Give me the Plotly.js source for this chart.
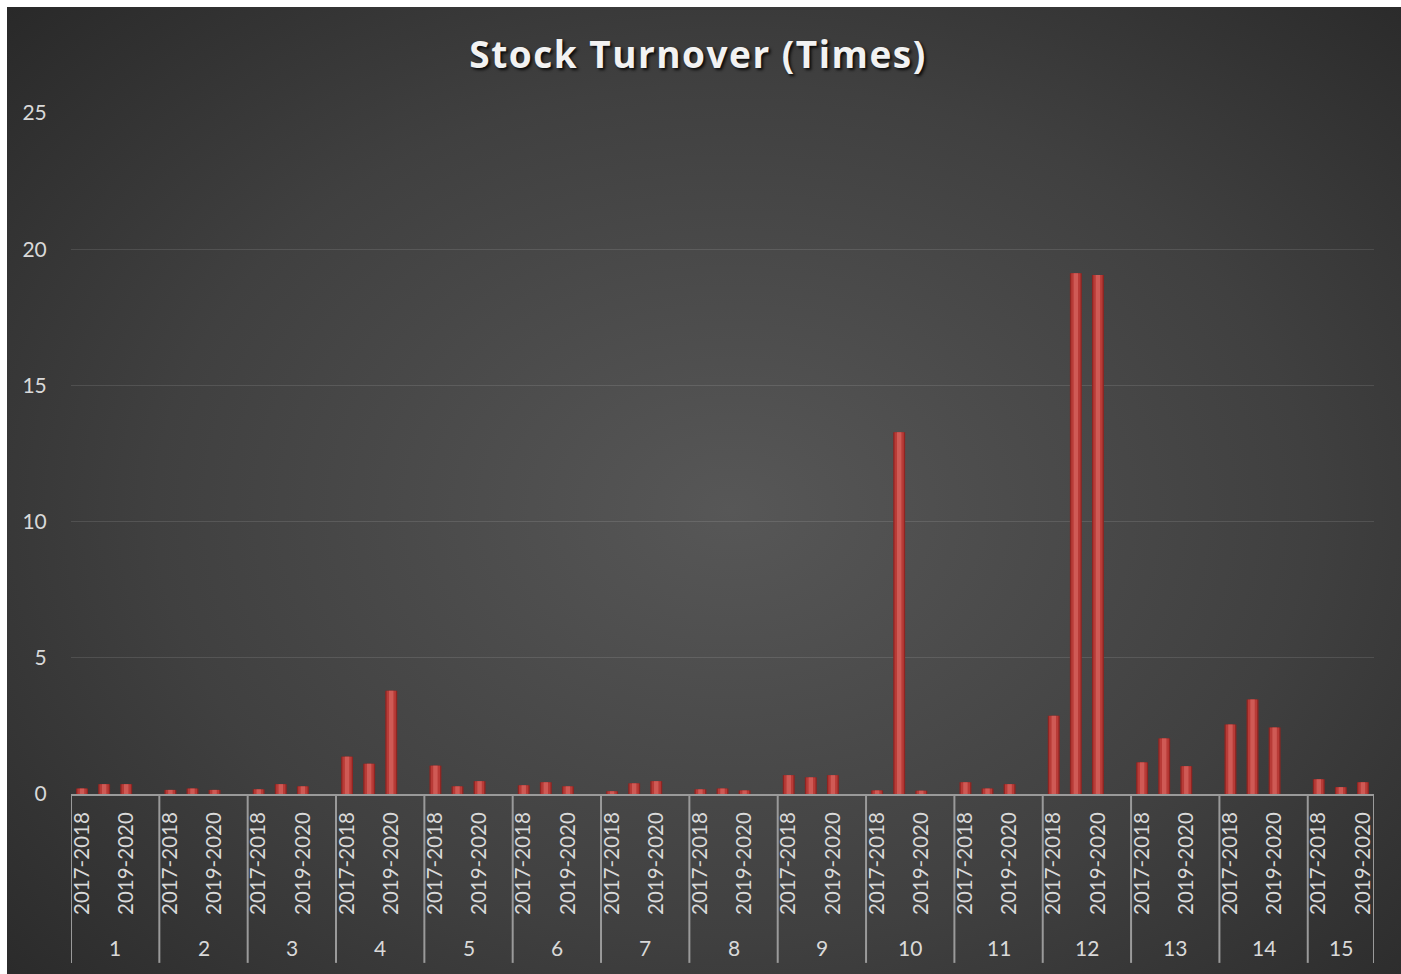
<!DOCTYPE html>
<html><head><meta charset="utf-8">
<script src="https://cdn.plot.ly/plotly-3.0.1.min.js"></script>
<style>
html,body{margin:0;padding:0;background:#ffffff;width:1401px;height:974px;overflow:hidden;}
#chart{position:absolute;left:7px;top:7px;width:1394px;height:967px;
  background:radial-gradient(ellipse 75% 80% at 52% 52%, #575757 0%, #404040 55%, #262626 100%);}
</style></head>
<body><div id="chart"></div>
<script>
const groups = ['1','2','3','4','5','6','7','8','9','10','11','12','13','14','15'];
const periods = ['2017-2018','2018-2019','2019-2020'];
const turnover2017_2018 = [0.20, 0.15, 0.17, 1.37, 1.04, 0.32, 0.10, 0.17, 0.69, 0.13, 0.43, 2.87, 1.16, 2.55, 0.54];
const turnover2018_2019 = [0.36, 0.20, 0.36, 1.11, 0.28, 0.43, 0.39, 0.20, 0.61, 13.28, 0.20, 19.12, 2.04, 3.47, 0.25];
const turnover2019_2020 = [0.36, 0.15, 0.28, 3.79, 0.47, 0.28, 0.47, 0.13, 0.69, 0.12, 0.36, 19.05, 1.02, 2.44, 0.43];
const yTicks = [0, 5, 10, 15, 20, 25];

const seriesByPeriod = [turnover2017_2018, turnover2018_2019, turnover2019_2020];
// Excel sheet has a blank category row after each group except the last
const slotsPerGroup = periods.length + 1;

const xs = [], ys = [], tickvals = [], ticktext = [], hover = [];
groups.forEach((g, gi) => {
  periods.forEach((p, pi) => {
    const s = gi * slotsPerGroup + pi;
    xs.push(s);
    ys.push(seriesByPeriod[pi][gi]);
    tickvals.push(s);
    ticktext.push(s % 2 === 0 ? p : '');   // Excel skips every other label
    hover.push(g + ' / ' + p);
  });
});
const lastSlot = xs[xs.length - 1];

const layers = [
  {w: 0.54, c: '#8f2522'},
  {w: 0.42, c: '#b83b37'},
  {w: 0.20, c: '#cf5a55'}
];
const traces = layers.map((l, i) => ({
  type: 'bar', x: xs, y: ys, width: l.w,
  marker: {color: l.c, line: {width: 0}},
  text: hover, textposition: 'none', hovertemplate: '%{text}: %{y}<extra></extra>',
  showlegend: false, hoverinfo: i === 0 ? 'all' : 'skip'
}));

// group dividers & labels
const bounds = groups.map((g, gi) => gi * slotsPerGroup - 0.5);
bounds.push(lastSlot + 0.5);
const lineCol = '#9a9a9a';
const shapes = bounds.map(b => ({
  type: 'line', xref: 'x', yref: 'paper', x0: b, x1: b, y0: 0, y1: -0.248,
  line: {color: lineCol, width: 2}
}));
const annotations = groups.map((g, gi) => ({
  xref: 'x', yref: 'paper', x: (bounds[gi] + bounds[gi + 1]) / 2, y: -0.2247,
  text: g, showarrow: false, yanchor: 'middle', xanchor: 'center',
  font: {family: 'Lato, "Open Sans", sans-serif', size: 21, color: '#d9d9d9'}
}));

const layout = {
  width: 1394, height: 967,
  paper_bgcolor: 'rgba(0,0,0,0)', plot_bgcolor: 'rgba(0,0,0,0)',
  margin: {l: 64, r: 27, t: 106, b: 180},
  barmode: 'overlay',
  title: {
    text: 'Stock Turnover (Times)', xref: 'container', x: 0.4957, xanchor: 'center',
    yref: 'container', y: 0.950, yanchor: 'middle',
    font: {family: '"Open Sans", Lato, sans-serif', size: 37, weight: 700, color: '#f2f2f2',
           shadow: '2px 2px 3px rgba(0,0,0,0.85)'}
  },
  xaxis: {
    type: 'linear', range: [-0.5, lastSlot + 0.5], fixedrange: true,
    tickmode: 'array', tickvals: tickvals, ticktext: ticktext, tickangle: -90,
    ticks: 'outside', ticklen: 8, tickcolor: 'rgba(0,0,0,0)',
    tickfont: {family: 'Lato, "Open Sans", sans-serif', size: 20.5, color: '#d9d9d9'},
    showgrid: false, zeroline: false,
    showline: true, linecolor: lineCol, linewidth: 2
  },
  yaxis: {
    range: [0, 25], tickmode: 'array', tickvals: yTicks, fixedrange: true,
    ticks: 'outside', ticklen: 19, tickcolor: 'rgba(0,0,0,0)',
    tickfont: {family: 'Lato, "Open Sans", sans-serif', size: 21, color: '#d9d9d9'},
    showgrid: true, gridcolor: 'rgba(255,255,255,0.11)', gridwidth: 1,
    zeroline: false, showline: false
  },
  shapes: shapes, annotations: annotations
};
Plotly.newPlot('chart', traces, layout, {displayModeBar: false}).then(gd => {
  const t = gd.querySelector('.gtitle');
  if (t) { t.style.letterSpacing = '1.5px'; }
});
</script>
</body></html>
